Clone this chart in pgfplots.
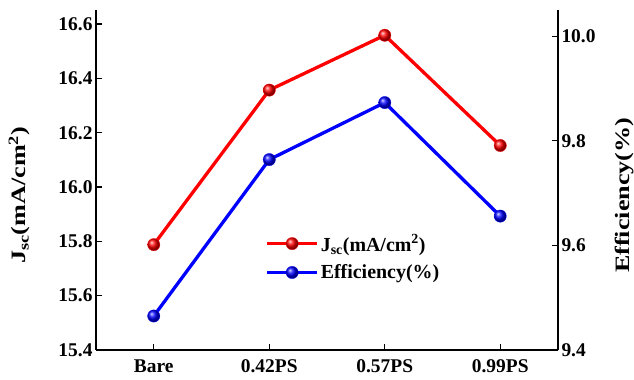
\documentclass[border=0pt]{standalone}
\usepackage{fontspec}
\setmainfont{Liberation Serif}
\newfontfamily\widefont{Liberation Serif}[FakeStretch=1.28]
\usepackage{pgfplots}
\pgfplotsset{compat=1.18}
\begin{document}
\begin{tikzpicture}
\pgfplotsset{
  every axis/.append style={
    scale only axis, width=462bp, height=340bp,
    xmin=-0.5, xmax=3.5,
    axis line style={line width=1.5pt},
    major tick style={line width=1.3pt, black},
    major tick length=6bp,
    tick align=inside,
    tick label style={font=\fontsize{19.5}{21}\selectfont\bfseries},
    label style={font=\widefont\fontsize{20.5}{22}\selectfont\bfseries},
    /pgf/number format/assume math mode=true,
    /pgf/number format/fixed, /pgf/number format/fixed zerofill,
    /pgf/number format/precision=1,
  },
  myball/.style={line width=3.3pt, mark=ball, mark size=6.2pt},
}
\begin{axis}[
  name=ax1,
  axis y line*=left, axis x line*=bottom,
  ymin=15.4, ymax=16.652,
  ytick={15.4,15.6,...,16.6},
  xtick={0,1,2,3},
  xticklabels={Bare,0.42PS,0.57PS,0.99PS},
  xticklabel style={yshift=-6bp},
  ylabel={J\textsubscript{sc}(mA/cm\textsuperscript{2})},
  ylabel style={at={(axis description cs:-0.166,0.455)}, anchor=center, rotate=0},
  xtick pos=bottom,
]
\addplot[red, myball, mark options={ball color=red, line width=0.3pt}] coordinates {(0,15.788) (1,16.357) (2,16.559) (3,16.153)};
\end{axis}
\begin{axis}[
  axis y line*=right, axis x line=none,
  ymin=9.4, ymax=10.05,
  ytick={9.4,9.6,9.8,10.0},
  ylabel={Efficiency(\%)},
  ylabel style={at={(axis description cs:1.143,0.455)}, anchor=center},
  legend style={draw=none, fill=none, at={(0.36,0.352)}, anchor=north west,
    font=\fontsize{20}{22}\selectfont\bfseries, row sep=8bp},
  legend cell align=left,
  legend image code/.code={\draw[#1, mark repeat=2, mark phase=2] plot coordinates {(0bp,0bp) (25bp,0bp) (50bp,0bp)};},
]
\addlegendimage{red, myball, mark options={ball color=red, line width=0.3pt}}
\addlegendentry{J\textsubscript{sc}(mA/cm\textsuperscript{2})}
\addplot[blue, myball, mark options={ball color=blue, line width=0.3pt}] coordinates {(0,9.465) (1,9.764) (2,9.873) (3,9.656)};
\addlegendentry{Efficiency(\%)}
\end{axis}
\pgfresetboundingbox
\path ([shift={(-96bp,-29bp)}]ax1.south west) rectangle ([shift={(76bp,10bp)}]ax1.north east);
\end{tikzpicture}
\end{document}
